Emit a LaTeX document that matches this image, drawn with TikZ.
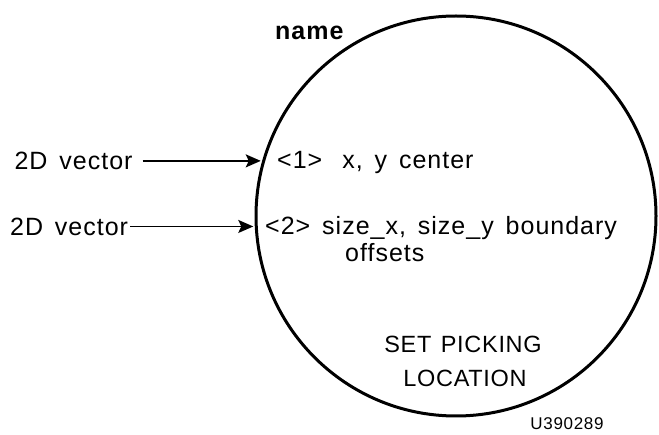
\documentclass[tikz,border=0pt]{standalone}
\usepackage{fontspec}
\setmainfont{Liberation Sans}[LetterSpace=3,WordSpace=1.3]
\newfontfamily\widefont{Liberation Sans}[LetterSpace=4,WordSpace=1.5]
\usetikzlibrary{positioning,arrows.meta}

\begin{document}
\begin{tikzpicture}[x=1pt,y=-1pt,
  txt/.style={inner sep=0pt,font=\fontsize{23.5}{27}\selectfont},
  wtxt/.style={inner sep=0pt,font=\widefont\fontsize{25}{29}\selectfont},
  arr/.style={line width=1.6pt,-{Stealth[length=15pt,width=13pt,inset=3pt]}}]
  \useasboundingbox (0,0) rectangle (659,435);

  \node [draw,circle,line width=3pt,minimum size=400pt,inner sep=0pt,outer sep=0pt] (loc) at (456,216) {};
  \coordinate (p1) at (loc.164.3);
  \coordinate (p2) at (loc.183.2);

  \node [wtxt,anchor=base west] (nm) at (275,40) {\textbf{name}};

  \node [wtxt,left=131pt of p1] (v1) {2D vector};
  \node [wtxt,left=128pt of p2] (v2) {2D vector};
  \draw[arr,shorten <=10pt,shorten >=3pt] (v1) -- (p1);
  \draw[arr,shorten <=2pt,shorten >=3pt] (v2) -- (p2);

  \node [wtxt,anchor=base west] (in1) at (277,169) {<1>\hspace{20pt}x, y center};
  \node [wtxt,anchor=base west] (in2) at (265,235) {<2> size\_x, size\_y boundary};
  \node [wtxt,anchor=base west] (in2b) at (345,262) {offsets};

  \node [txt,anchor=base] (t1) at (463,353) {SET PICKING};
  \node [txt,anchor=base] (t2) at (465,387) {LOCATION};

  \node [wtxt,anchor=base,font=\widefont\fontsize{17}{20}\selectfont] (id) at (567,430) {U390289};
\end{tikzpicture}
\end{document}
